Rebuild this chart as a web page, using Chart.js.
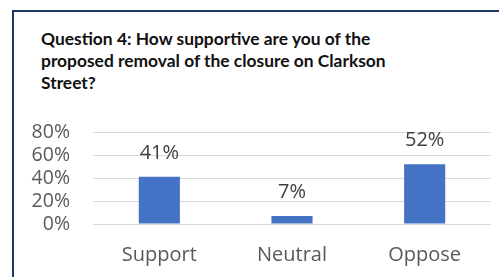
<!DOCTYPE html>
<html>
<head>
<meta charset="utf-8">
<script src="https://cdn.jsdelivr.net/npm/chart.js@4.4.1/dist/chart.umd.min.js"></script>
<style>
  html, body { margin: 0; padding: 0; background: #fff; overflow: hidden; }
  #wrap { position: relative; width: 499px; height: 277px; overflow: hidden; }
  #frame { position: absolute; left: 12px; top: 10px; width: 600px; height: 400px;
           border-left: 2px solid #203864; border-top: 2px solid #203864; box-sizing: border-box; }
  #title { position: absolute; left: 41px; top: 28px; font-family: Lato, "Open Sans", sans-serif;
           font-weight: bold; font-size: 17.4px; line-height: 22px; color: #111; white-space: nowrap; }
  canvas { position: absolute; left: 0; top: 0; }
</style>
</head>
<body>
<div id="wrap">
  <div id="frame"></div>
  <div id="title">Question 4: How supportive are you of the<br>proposed removal of the closure on Clarkson<br>Street?</div>
  <canvas id="c" width="499" height="277"></canvas>
</div>
<script>
const categories = ["Support", "Neutral", "Oppose"];
const percentValues = [41, 7, 52];
const yTicks = [0, 20, 40, 60, 80];

const barLabels = {
  id: 'barLabels',
  afterDatasetsDraw(chart) {
    const ctx = chart.ctx;
    const meta = chart.getDatasetMeta(0);
    ctx.save();
    ctx.font = '20px "Open Sans"';
    ctx.fillStyle = '#404040';
    ctx.textAlign = 'center';
    ctx.textBaseline = 'middle';
    meta.data.forEach((bar, i) => {
      ctx.fillText(chart.data.datasets[0].data[i] + '%', bar.x, bar.y - 24);
    });
    ctx.restore();
  }
};

new Chart(document.getElementById('c'), {
  type: 'bar',
  data: {
    labels: categories,
    datasets: [{
      data: percentValues,
      backgroundColor: '#4472C4',
      categoryPercentage: 1,
      barPercentage: 0.31
    }]
  },
  options: {
    responsive: false,
    animation: false,
    layout: { padding: { top: 132, right: 8, left: 0, bottom: 0 } },
    plugins: { legend: { display: false }, tooltip: { enabled: false } },
    scales: {
      y: {
        min: yTicks[0], max: yTicks[yTicks.length - 1],
        afterBuildTicks(s) { s.ticks = yTicks.map(v => ({ value: v })); },
        ticks: {
          callback: v => v + '%',
          font: { family: 'Open Sans', size: 19.5 },
          color: '#595959',
          padding: 23,
          autoSkip: false
        },
        grid: { color: '#D9D9D9', lineWidth: 1, drawTicks: false },
        border: { display: false },
        afterFit(s) { s.width = 93; }
      },
      x: {
        grid: { display: false, drawTicks: false },
        border: { display: false },
        ticks: {
          font: { family: 'Open Sans', size: 20 },
          color: '#595959',
          padding: 19
        },
        afterFit(s) { s.height = 53; }
      }
    }
  },
  plugins: [barLabels]
});
</script>
</body>
</html>
